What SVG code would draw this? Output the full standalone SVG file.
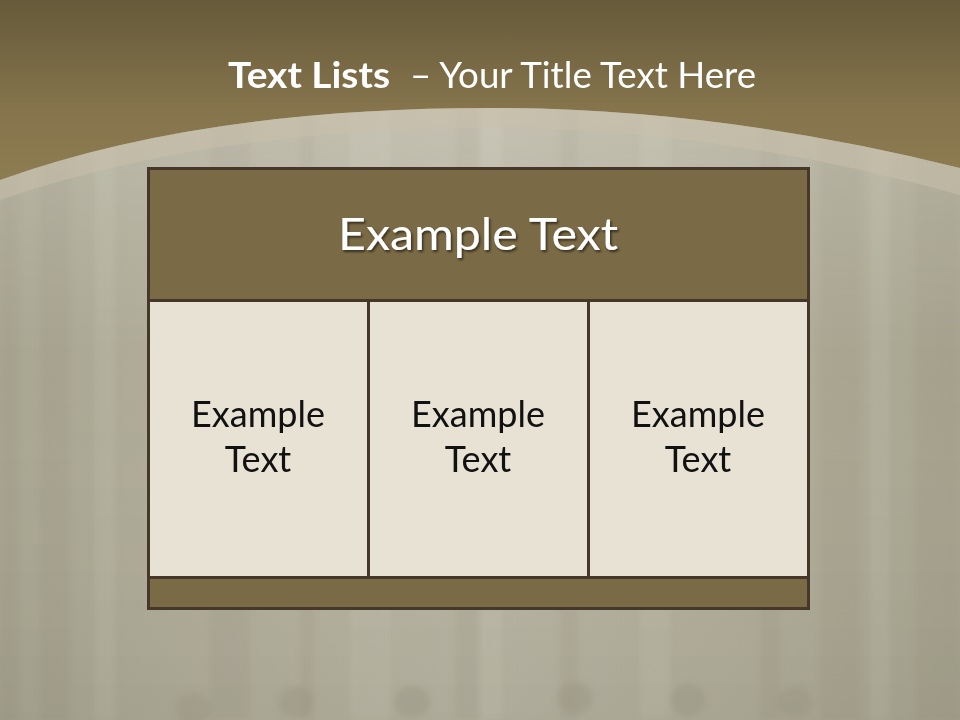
<svg xmlns="http://www.w3.org/2000/svg" width="960" height="720" viewBox="0 0 960 720">
<defs>
<linearGradient id="top" x1="0" y1="0" x2="0" y2="1">
<stop offset="0" stop-color="#665a3a"/>
<stop offset="0.6" stop-color="#85744c"/>
<stop offset="1" stop-color="#8e7c52"/>
</linearGradient>
<linearGradient id="wood" x1="0" y1="0" x2="1" y2="0">
<stop offset="0" stop-color="#a9a692"/>
<stop offset="0.25" stop-color="#b3af9c"/>
<stop offset="0.5" stop-color="#b9b5a3"/>
<stop offset="0.75" stop-color="#b2ae9b"/>
<stop offset="1" stop-color="#a9a691"/>
</linearGradient>
<linearGradient id="woodv" x1="0" y1="0" x2="0" y2="1">
<stop offset="0" stop-color="#ffffff" stop-opacity="0.25"/>
<stop offset="0.5" stop-color="#ffffff" stop-opacity="0"/>
<stop offset="1" stop-color="#000000" stop-opacity="0.05"/>
</linearGradient>
<filter id="sh" x="-10%" y="-10%" width="120%" height="130%">
<feDropShadow dx="1.5" dy="2" stdDeviation="1.2" flood-color="#000" flood-opacity="0.55"/>
</filter>
<filter id="blur"><feGaussianBlur stdDeviation="3"/></filter>
</defs>
<style>
.cell{fill:#e8e2d5;stroke:#45382a;stroke-width:3}
.band{fill:#7a6a45;stroke:#45382a;stroke-width:3}
.ct{font-family:Lato,"Open Sans",sans-serif;font-size:36px;fill:#111;text-anchor:middle}
.streak{fill:#8a8672;opacity:0.12}
.lstreak{fill:#d8d4c4;opacity:0.14}
.knob{fill:#9a9580;opacity:0.35}
</style>
<rect width="960" height="720" fill="url(#wood)"/>
<g id="texture" filter="url(#blur)">
<rect class="streak" x="0" y="0" width="18" height="720"/>
<rect class="streak" x="40" y="0" width="30" height="720"/>
<rect class="lstreak" x="95" y="0" width="20" height="720"/>
<rect class="streak" x="210" y="0" width="40" height="720"/>
<rect class="streak" x="300" y="0" width="14" height="720"/>
<rect class="lstreak" x="350" y="0" width="40" height="720"/>
<rect class="streak" x="455" y="0" width="25" height="720"/>
<rect class="lstreak" x="480" y="0" width="22" height="720"/>
<rect class="streak" x="560" y="0" width="18" height="720"/>
<rect class="lstreak" x="640" y="0" width="30" height="720"/>
<rect class="streak" x="760" y="0" width="20" height="720"/>
<rect class="streak" x="820" y="0" width="40" height="720"/>
<rect class="lstreak" x="870" y="0" width="20" height="720"/>
<rect class="streak" x="915" y="0" width="45" height="720"/>
<ellipse class="knob" cx="193" cy="708" rx="18" ry="16"/>
<ellipse class="knob" cx="296" cy="702" rx="18" ry="16"/>
<ellipse class="knob" cx="412" cy="702" rx="18" ry="16"/>
<ellipse class="knob" cx="575" cy="698" rx="18" ry="16"/>
<ellipse class="knob" cx="688" cy="700" rx="18" ry="16"/>
<ellipse class="knob" cx="795" cy="702" rx="18" ry="16"/>
</g>
<rect x="0" y="0" width="960" height="720" fill="url(#woodv)"/>
<g id="header-band">
<path d="M0,0 H960 V168 Q720,108 490,108 Q200,108 0,180 Z" fill="url(#top)"/>
<path d="M0,180 Q200,108 490,108 Q720,108 960,168 V195 Q720,128 490,128 Q210,128 0,200 Z" fill="#c8c0aa" opacity="0.55"/>
</g>
<g id="title">
<text x="228" y="88" font-family="Lato,'Open Sans',sans-serif" font-size="36" font-weight="bold" fill="#ffffff" textLength="162" lengthAdjust="spacingAndGlyphs">Text Lists</text>
<text x="410" y="88" font-family="Lato,'Open Sans',sans-serif" font-size="36" fill="#ffffff" textLength="346" lengthAdjust="spacingAndGlyphs">– Your Title Text Here</text>
</g>
<g id="header">
<rect class="band" x="148.5" y="168.5" width="660" height="132"/>
<text x="478" y="250" font-family="Lato,'Open Sans',sans-serif" font-size="44" fill="#ffffff" text-anchor="middle" filter="url(#sh)" textLength="280" lengthAdjust="spacingAndGlyphs">Example Text</text>
</g>
<g id="cell1">
<rect class="cell" x="148.5" y="300.5" width="220" height="277"/>
<text class="ct" x="258" y="427">Example</text>
<text class="ct" x="258" y="472">Text</text>
</g>
<g id="cell2">
<rect class="cell" x="368.5" y="300.5" width="220" height="277"/>
<text class="ct" x="478" y="427">Example</text>
<text class="ct" x="478" y="472">Text</text>
</g>
<g id="cell3">
<rect class="cell" x="588.5" y="300.5" width="220" height="277"/>
<text class="ct" x="698" y="427">Example</text>
<text class="ct" x="698" y="472">Text</text>
</g>
<g id="footer">
<rect class="band" x="148.5" y="577.5" width="660" height="31"/>
</g>
<g id="connectors"></g>
</svg>
